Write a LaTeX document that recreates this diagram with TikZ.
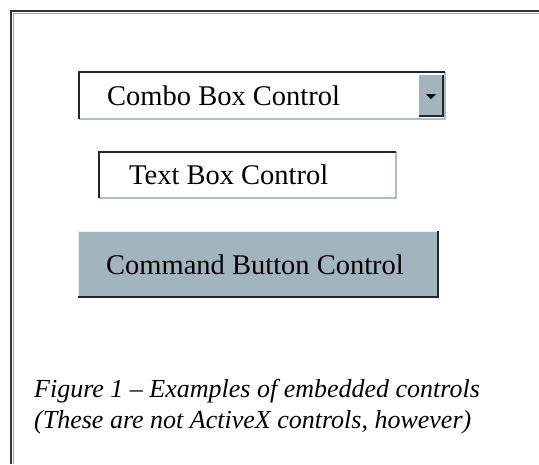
\documentclass[tikz,border=0pt]{standalone}
\usepackage{fontspec}
\setmainfont{Liberation Serif}
\begin{document}
\begin{tikzpicture}[x=1pt,y=-1pt,
  lightedge/.style={draw=edgeblue,line width=2},
  darkedge/.style={draw=black!85,line width=2},
  ctrltext/.style={anchor=west,inner sep=0,font=\fontsize{28.5}{28.5}\selectfont},
  captext/.style={anchor=base west,inner sep=0,font=\fontsize{26}{26}\selectfont\itshape}]
\definecolor{edgeblue}{HTML}{A9BFCC}
\definecolor{btnfill}{HTML}{A2B5BF}
\useasboundingbox (0,0) rectangle (539,464);
% outer frame
\draw[black!80,line width=2.5] (11,464) -- (11,11) -- (539,11);
\draw[black!35,line width=0.8] (13.5,464) -- (13.5,13.5) -- (539,13.5);
% combo box
\fill[white] (79,72) rectangle (445,119);
\draw[lightedge] (79,119) -- (445,119) -- (445,72);
\draw[darkedge] (79,119) -- (79,72) -- (445,72);
\fill[btnfill] (419,75) rectangle (443,116);
\draw[black!85,line width=1.5] (419,116) -- (443,116) -- (443,75);
\fill[black] (426,94) -- (436,94) -- (431,99) -- cycle;
\node[ctrltext] (combo) at (107,96) {Combo Box Control};
% text box
\draw[lightedge] (99,198) -- (396,198) -- (396,152);
\draw[darkedge] (99,198) -- (99,152) -- (396,152);
\node[ctrltext] (text) at (129,175) {Text Box Control};
% command button
\fill[btnfill] (78,231) rectangle (438,297);
\draw[draw=white!80!btnfill,line width=1] (78,297) -- (78,231) -- (438,231);
\draw[darkedge] (78,297) -- (438,297) -- (438,231);
\node[ctrltext] (cmd) at (106,265) {Command Button Control};
% caption
\node[captext] (cap1) at (34,397) {Figure 1 -- Examples of embedded controls};
\node[captext] (cap2) at (34,428) {(These are not ActiveX controls, however)};
\end{tikzpicture}
\end{document}
